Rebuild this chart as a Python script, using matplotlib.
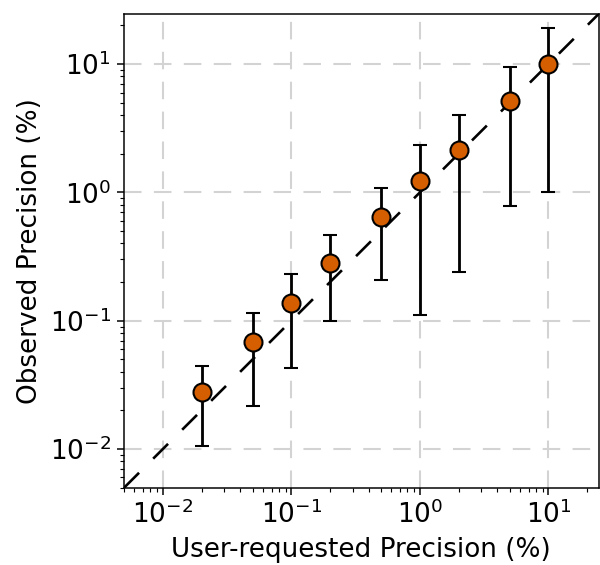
import matplotlib
matplotlib.use("Agg")
import matplotlib.pyplot as plt
import numpy as np

# Requested precision levels (%) and the observed precision with spread
requested = [0.02, 0.05, 0.1, 0.2, 0.5, 1.0, 2.0, 5.0, 10.0]
observed = [0.0276, 0.0678, 0.138, 0.282, 0.643, 1.23, 2.13, 5.11, 10.0]
spread = [0.017, 0.046, 0.095, 0.182, 0.435, 1.12, 1.89, 4.33, 9.0]

lims = (0.005, 24.5)

DPI = 135
fig = plt.figure(figsize=(600 / DPI, 565 / DPI), dpi=DPI)
ax = fig.add_axes([0.207, 0.137, 0.7905, 0.838])

ax.set_xscale("log")
ax.set_yscale("log")
ax.set_xlim(*lims)
ax.set_ylim(*lims)

ax.grid(True, which="major", color="#d3d3d3", linestyle=(0, (8.5, 6.0)), linewidth=1.1)
ax.set_axisbelow(True)

# identity reference line
ref = np.array(lims)
ax.plot(ref, ref, color="black", linewidth=1.4, dashes=(8.0, 7.6), zorder=2)

ax.errorbar(requested, observed, yerr=spread, fmt="o", color="black",
            ecolor="black", elinewidth=1.5, capsize=3.8, capthick=1.5,
            markersize=9.6, markerfacecolor="#d55e00",
            markeredgecolor="black", markeredgewidth=1.1, zorder=3)

ax.set_xlabel("User-requested Precision (%)", fontsize=14)
ax.set_ylabel("Observed Precision (%)", fontsize=14)
ax.tick_params(axis="both", which="major", labelsize=14)

fig.savefig("out.png", dpi=DPI)
